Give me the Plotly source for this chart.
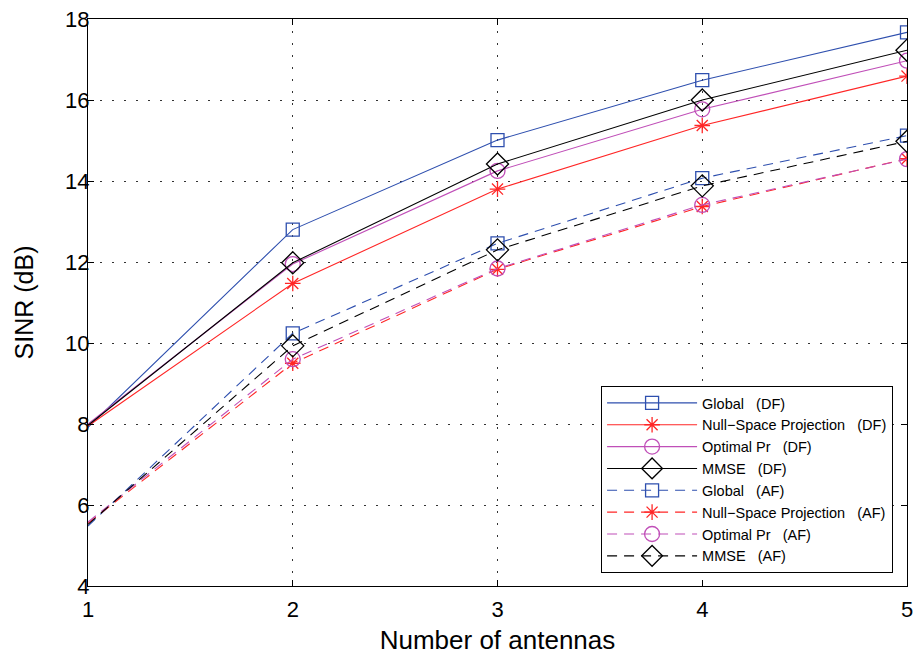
import plotly.graph_objects as go

antennas = [1, 2, 3, 4, 5]

global_df = [7.92, 12.80, 15.01, 16.49, 17.67]
null_df = [7.95, 11.47, 13.80, 15.37, 16.59]
optimal_df = [8.00, 11.95, 14.25, 15.77, 16.97]
mmse_df = [7.97, 11.98, 14.42, 16.00, 17.23]

global_af = [5.48, 10.24, 12.46, 14.07, 15.12]
null_af = [5.55, 9.50, 11.82, 13.37, 14.55]
optimal_af = [5.58, 9.60, 11.84, 13.41, 14.54]
mmse_af = [5.52, 9.93, 12.30, 13.88, 14.98]

NB = "\u00a0"
names = [
    "Global" + NB * 3 + "(DF)",
    "Null\u2212Space Projection" + NB * 3 + "(DF)",
    "Optimal Pr" + NB * 3 + "(DF)",
    "MMSE" + NB * 3 + "(DF)",
    "Global" + NB * 3 + "(AF)",
    "Null\u2212Space Projection" + NB * 3 + "(AF)",
    "Optimal Pr" + NB * 3 + "(AF)",
    "MMSE" + NB * 3 + "(AF)",
]

BLUE = "#2E4FAE"
RED = "#FF2626"
MAG = "#C04FB8"
BLK = "#000000"

series = [
    (global_df, BLUE, "square-open", "solid", 13),
    (null_df, RED, "asterisk-open", "solid", 13),
    (optimal_df, MAG, "circle-open", "solid", 15),
    (mmse_df, BLK, "diamond-open", "solid", 17),
    (global_af, BLUE, "square-open", "10px,7px", 13),
    (null_af, RED, "asterisk-open", "10px,7px", 13),
    (optimal_af, MAG, "circle-open", "10px,7px", 15),
    (mmse_af, BLK, "diamond-open", "10px,7px", 17),
]

fig = go.Figure()

for (vals, col, sym, dash, ms), name in zip(series, names):
    fig.add_trace(go.Scatter(
        x=antennas, y=vals, mode="lines",
        line=dict(color=col, width=1.1, dash=dash),
        showlegend=False, hoverinfo="skip"))
    fig.add_trace(go.Scatter(
        x=antennas[1:], y=vals[1:], mode="markers",
        marker=dict(symbol=sym, size=ms, color=col, line=dict(color=col, width=1.3)),
        showlegend=False))
    fig.add_trace(go.Scatter(
        x=[None], y=[None], mode="lines+markers", name=name,
        line=dict(color=col, width=1.1, dash=dash),
        marker=dict(symbol=sym, size=ms, color=col, line=dict(color=col, width=1.3))))

FONT = "Liberation Sans, Arial, sans-serif"
axis_common = dict(
    showline=True, linecolor="black", linewidth=1, mirror="ticks",
    ticks="inside", ticklen=6, tickcolor="black", tickwidth=1,
    showgrid=True, gridcolor="#333333", gridwidth=1, griddash="2px,10px",
    zeroline=False, automargin=False, ticklabeloverflow="allow",
    tickfont=dict(family=FONT, size=22, color="black"),
)

fig.update_xaxes(range=[1, 5], dtick=1, tick0=1, ticklabelstandoff=4,
                 title=dict(text="Number of antennas", standoff=22,
                            font=dict(family=FONT, size=26, color="black")),
                 **axis_common)
fig.update_yaxes(range=[4, 18], dtick=2, tick0=4, ticklabelstandoff=-7,
                 title=dict(text="SINR (dB)", standoff=24,
                            font=dict(family=FONT, size=25, color="black")),
                 **axis_common)

fig.update_layout(
    width=915, height=655,
    margin=dict(l=88, r=8, t=19, b=69),
    paper_bgcolor="white", plot_bgcolor="white",
    legend=dict(
        x=0.983, y=0.023, xanchor="right", yanchor="bottom",
        bgcolor="white", bordercolor="black", borderwidth=1,
        font=dict(family=FONT, size=14.5, color="black"),
        tracegroupgap=0, itemwidth=90,
    ),
)

# remove the page's default 8px body margin so the figure fills the window exactly
fig.write_html("out.html",
               config={"displayModeBar": False},
               post_script="document.body.style.margin='0';document.body.style.overflow='hidden';")
